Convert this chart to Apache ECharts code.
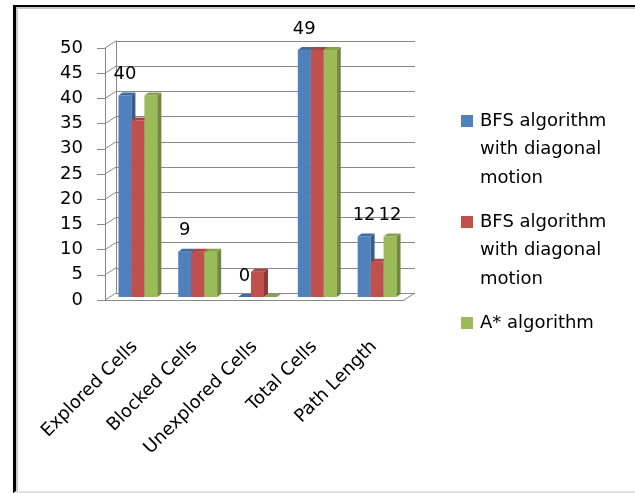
<!DOCTYPE html>
<html>
<head>
<meta charset="utf-8">
<script src="https://cdn.jsdelivr.net/npm/echarts@6/dist/echarts.min.js"></script>
<style>
  html, body { margin: 0; padding: 0; background: #fff; overflow: hidden; width: 635px; height: 493px; }
  #frame {
    position: absolute; left: 13px; top: 5px; width: 700px; height: 484px;
    border-left: 3px solid #000; border-top: 2px solid #000;
    border-bottom: 2px solid #e2e2e2;
    box-shadow: inset 2px 2px 0 #c8c8c8;
  }
  #chart { position: absolute; left: 0; top: 0; width: 635px; height: 493px; }
</style>
</head>
<body>
<div id="frame"></div>
<div id="chart"></div>
<script>
// ---- data ----
const categories = ['Explored Cells', 'Blocked Cells', 'Unexplored Cells', 'Total Cells', 'Path Length'];
const seriesNames = ['BFS algorithm with diagonal motion', 'BFS algorithm with diagonal motion', 'A* algorithm'];
const bfsDiagonalA = [40, 9, 0, 49, 12];
const bfsDiagonalB = [35, 9, 5, 49, 7];
const aStar = [40, 9, 0, 49, 12];
const yTicks = [0, 5, 10, 15, 20, 25, 30, 35, 40, 45, 50];
// which points carry a value label, per series
const labelsA = [true, true, true, true, true];
const labelsB = [false, false, false, false, false];
const labelsC = [false, false, false, false, true];

// ---- layout / style ----
const FONT = '"DejaVu Sans", "Open Sans", sans-serif';
const FONT_SIZE = 18;
const GRID = { left: 105, top: 48, width: 299, height: 252 };
const WALL_DX = 11, WALL_DY = 7;      // depth of the 3D box
const BAR_DX = 4, BAR_DY = 3;         // depth of each bar
const BAR_SHIFT_X = 3, BAR_SHIFT_Y = 3;
const BAR_FRAC = 0.217;               // bar width as a share of a category
const LINE_COLOR = '#888888';
const faces = [
  { front: '#4f81bd', side: '#385d8a', top: '#3f6ca3' },
  { front: '#c0504d', side: '#8c3a38', top: '#a64542' },
  { front: '#9bbb59', side: '#71893f', top: '#86a34b' }
];

const chart = echarts.init(document.getElementById('chart'), null, { renderer: 'canvas' });

function barSeries(idx, values, labelFlags) {
  return {
    type: 'custom',
    name: seriesNames[idx],
    xAxisIndex: 0, yAxisIndex: 0,
    z: 10 + idx,
    silent: true,
    data: values.map((v, i) => [i, v]),
    encode: { x: 0, y: 1 },
    renderItem(params, api) {
      const ci = api.value(0), v = api.value(1);
      const base = api.coord([ci, 0]);
      const top = api.coord([ci, v]);
      const catW = api.size([1, 0])[0];
      const w = catW * BAR_FRAC;
      const x0 = base[0] - 1.5 * w + idx * w + BAR_SHIFT_X;
      const yb = base[1] - BAR_SHIFT_Y;
      const yt = top[1] - BAR_SHIFT_Y;
      const c = faces[idx];
      const children = [
        { type: 'rect', shape: { x: x0, y: yt, width: w, height: yb - yt }, style: { fill: c.front } },
        { type: 'polygon', shape: { points: [[x0 + w, yt], [x0 + w + BAR_DX, yt - BAR_DY], [x0 + w + BAR_DX, yb - BAR_DY], [x0 + w, yb]] }, style: { fill: c.side } },
        { type: 'polygon', shape: { points: [[x0, yt], [x0 + BAR_DX, yt - BAR_DY], [x0 + w + BAR_DX, yt - BAR_DY], [x0 + w, yt]] }, style: { fill: c.top } }
      ];
      if (labelFlags[ci]) {
        children.push({
          type: 'text', z2: 50,
          style: {
            text: String(v), x: x0 + w / 2, y: yt - 12,
            align: 'center', verticalAlign: 'bottom',
            fill: '#000', font: FONT_SIZE + 'px ' + FONT
          }
        });
      }
      return { type: 'group', children };
    }
  };
}

// side wall diagonals and floor edge of the 3D box
const frameSeries = {
  type: 'custom',
  xAxisIndex: 0, yAxisIndex: 0,
  z: 2, silent: true,
  data: [[0, 0]],
  renderItem(params, api) {
    const cs = params.coordSys;
    const children = yTicks.map(t => {
      const y = api.coord([0, t])[1];
      return { type: 'line', shape: { x1: cs.x, y1: y, x2: cs.x + WALL_DX, y2: y - WALL_DY }, style: { stroke: LINE_COLOR, lineWidth: 1 } };
    });
    const xr = cs.x + cs.width, yb = cs.y + cs.height;
    children.push({ type: 'line', shape: { x1: xr, y1: yb, x2: xr + WALL_DX, y2: yb - WALL_DY }, style: { stroke: LINE_COLOR, lineWidth: 1 } });
    return { type: 'group', children };
  }
};

// legend drawn as graphic items so the wrapped names sit beside the swatch's first line
const LEG_X = 461, LEG_Y0 = 121, LEG_STEP = 101, LEG_LINE = 28.5;
const legendGraphics = [];
seriesNames.forEach((name, i) => {
  const cy = LEG_Y0 + i * LEG_STEP;
  legendGraphics.push({ type: 'rect', left: LEG_X, top: cy - 6, shape: { width: 12, height: 12 }, style: { fill: faces[i].front } });
  legendGraphics.push({
    type: 'text', left: LEG_X + 19, top: cy - LEG_LINE / 2,
    style: { text: name, width: 148, overflow: 'break', lineHeight: LEG_LINE, fill: '#000', font: FONT_SIZE + 'px ' + FONT }
  });
});

const option = {
  animation: false,
  backgroundColor: 'transparent',
  grid: [
    { left: GRID.left, top: GRID.top, width: GRID.width, height: GRID.height },
    { left: GRID.left + WALL_DX, top: GRID.top - WALL_DY, width: GRID.width, height: GRID.height }
  ],
  xAxis: [
    {
      type: 'category', gridIndex: 0, data: categories,
      axisLine: { lineStyle: { color: LINE_COLOR } },
      axisTick: { length: 7, lineStyle: { color: LINE_COLOR } },
      axisLabel: { interval: 0, rotate: 45, margin: 44, color: '#000', fontSize: FONT_SIZE, fontFamily: FONT }
    },
    { type: 'category', gridIndex: 1, data: categories, show: false }
  ],
  yAxis: [
    {
      type: 'value', gridIndex: 0, min: 0, max: 50, interval: 5,
      axisLine: { show: true, lineStyle: { color: LINE_COLOR } },
      axisTick: { show: true, length: 8, lineStyle: { color: LINE_COLOR } },
      splitLine: { show: false },
      axisLabel: { margin: 22, color: '#000', fontSize: FONT_SIZE, fontFamily: FONT }
    },
    {
      type: 'value', gridIndex: 1, min: 0, max: 50, interval: 5,
      axisLine: { show: true, lineStyle: { color: LINE_COLOR } },
      axisTick: { show: false },
      axisLabel: { show: false },
      splitLine: { show: true, lineStyle: { color: LINE_COLOR } }
    }
  ],
  series: [
    frameSeries,
    barSeries(0, bfsDiagonalA, labelsA),
    barSeries(1, bfsDiagonalB, labelsB),
    barSeries(2, aStar, labelsC)
  ],
  graphic: legendGraphics
};

chart.setOption(option);
</script>
</body>
</html>
